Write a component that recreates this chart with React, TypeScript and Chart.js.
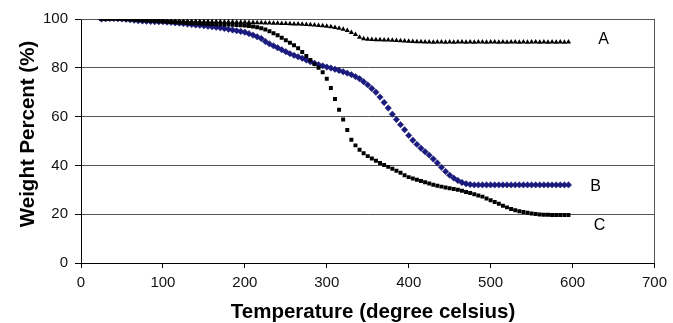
import React, { useEffect, useRef } from "react";
import { Chart, registerables } from "chart.js";

Chart.register(...registerables);

const TEMPS = [
  25, 30, 35, 40, 45, 50, 55, 60, 65, 70,
  75, 80, 85, 90, 95, 100, 105, 110, 115, 120,
  125, 130, 135, 140, 145, 150, 155, 160, 165, 170,
  175, 180, 185, 190, 195, 200, 205, 210, 215, 220,
  225, 230, 235, 240, 245, 250, 255, 260, 265, 270,
  275, 280, 285, 290, 295, 300, 305, 310, 315, 320,
  325, 330, 335, 340, 345, 350, 355, 360, 365, 370,
  375, 380, 385, 390, 395, 400, 405, 410, 415, 420,
  425, 430, 435, 440, 445, 450, 455, 460, 465, 470,
  475, 480, 485, 490, 495, 500, 505, 510, 515, 520,
  525, 530, 535, 540, 545, 550, 555, 560, 565, 570,
  575, 580, 585, 590, 595,
];

const SERIES_A = [
  99.8, 100, 100, 100.2, 100.3, 100.3, 100.2, 100, 99.9, 99.8,
  99.8, 99.7, 99.6, 99.6, 99.5, 99.5, 99.4, 99.4, 99.3, 99.3,
  99.2, 99.2, 99.1, 99.1, 99.0, 99.0, 99.0, 98.9, 98.9, 98.9,
  98.8, 98.8, 98.8, 98.7, 98.7, 98.7, 98.6, 98.6, 98.5, 98.5,
  98.4, 98.4, 98.3, 98.3, 98.2, 98.2, 98.1, 98.0, 97.9, 97.8,
  97.7, 97.6, 97.5, 97.3, 97.2, 97.0, 96.8, 96.5, 96.2, 95.8,
  95.3, 94.5, 93.6, 92.5, 91.9, 91.7, 91.6, 91.5, 91.5, 91.4,
  91.4, 91.3, 91.2, 91.1, 91.0, 90.9, 90.8, 90.7, 90.7, 90.6,
  90.6, 90.5, 90.6, 90.6, 90.5, 90.6, 90.5, 90.6, 90.6, 90.5,
  90.6, 90.5, 90.6, 90.6, 90.5, 90.6, 90.6, 90.5, 90.6, 90.5,
  90.6, 90.6, 90.5, 90.6, 90.5, 90.6, 90.6, 90.5, 90.6, 90.5,
  90.6, 90.5, 90.6, 90.5, 90.6,
];

const SERIES_B = [
  100, 100.1, 100.2, 100.2, 100.1, 100, 99.9, 99.7, 99.5, 99.3,
  99.2, 99.1, 99.0, 98.9, 98.9, 98.9, 98.7, 98.6, 98.4, 98.3,
  98.1, 97.9, 97.7, 97.5, 97.4, 97.2, 97.0, 96.8, 96.6, 96.4,
  96.1, 95.8, 95.5, 95.2, 94.9, 94.6, 94.0, 93.4, 92.7, 92.0,
  90.8, 89.8, 89.0, 88.2, 87.4, 86.6, 85.8, 85.1, 84.5, 83.9,
  83.2, 82.5, 81.9, 81.3, 80.8, 80.3, 79.9, 79.4, 78.9, 78.4,
  77.8, 77.2, 76.4, 75.5, 74.3, 73.0, 71.5, 70.0, 68.0, 65.8,
  63.5, 61.0, 58.8, 56.7, 54.6, 52.3, 50.3, 48.6, 47.0, 45.6,
  44.2, 42.6, 41.0, 39.2, 37.5, 36.0, 34.8, 33.8, 33.0, 32.5,
  32.2, 32.0, 32.0, 32.0, 32.0, 32.0, 32.0, 32.0, 32.0, 32.0,
  32.0, 32.0, 32.0, 32.0, 32.0, 32.0, 32.0, 32.0, 32.0, 32.0,
  32.0, 32.0, 32.0, 32.0, 32.0,
];

const SERIES_C = [
  100, 100, 100.1, 100.1, 100, 100, 99.9, 99.8, 99.7, 99.6,
  99.5, 99.4, 99.3, 99.2, 99.1, 99.0, 98.9, 98.8, 98.7, 98.6,
  98.5, 98.4, 98.3, 98.2, 98.1, 98.0, 97.9, 97.9, 97.8, 97.8,
  97.7, 97.7, 97.6, 97.5, 97.4, 97.3, 97.1, 96.9, 96.6, 96.2,
  95.7, 95.0, 94.2, 93.3, 92.3, 91.3, 90.3, 89.2, 88.0, 86.5,
  84.8, 83.2, 81.5, 80.0, 78.2, 75.5, 71.7, 67.2, 62.8, 58.8,
  54.5, 50.5, 48.2, 46.4, 45.0, 43.8, 42.8, 41.9, 41.0, 40.2,
  39.4, 38.6, 37.8, 37.0, 36.0, 35.2, 34.6, 34.1, 33.6, 33.1,
  32.6, 32.1, 31.7, 31.3, 30.9, 30.6, 30.3, 30.0, 29.6, 29.1,
  28.7, 28.2, 27.7, 27.2, 26.4, 25.7, 25.0, 24.3, 23.5, 22.8,
  22.1, 21.6, 21.2, 20.9, 20.6, 20.3, 20.1, 19.9, 19.8, 19.8,
  19.7, 19.7, 19.7, 19.7, 19.7,
];

const SERIES_LABELS = ["A", "B", "C"];
// label anchor positions in data units [temperature, weight]
const LABEL_T = [638, 628, 633];
const LABEL_W = [91.5, 31.3, 15.3];

const X_TITLE = "Temperature (degree celsius)";
const Y_TITLE = "Weight Percent (%)";

const FONT = "'Liberation Sans', Arial, sans-serif";

function zip(xs: number[], ys: number[]) {
  return ys.map((y, i) => ({ x: xs[i], y }));
}

const decorPlugin = {
  id: "decor",
  beforeDatasetsDraw(chart: any) {
    const { ctx, chartArea } = chart;
    ctx.save();
    ctx.strokeStyle = "#555";
    ctx.lineWidth = 1;
    const r = Math.round(chartArea.right) + 0.5;
    const t = Math.round(chartArea.top) + 0.5;
    ctx.beginPath();
    ctx.moveTo(r, chartArea.top);
    ctx.lineTo(r, chartArea.bottom);
    ctx.moveTo(chartArea.left, t);
    ctx.lineTo(chartArea.right, t);
    ctx.stroke();
    ctx.restore();
  },
  afterDraw(chart: any) {
    const { ctx, scales } = chart;
    ctx.save();
    ctx.fillStyle = "#000";
    ctx.font = `bold 20.5px ${FONT}`;
    ctx.textAlign = "center";
    ctx.textBaseline = "middle";
    ctx.fillText(X_TITLE, 373, 312);
    ctx.save();
    ctx.translate(28, 134);
    ctx.rotate(-Math.PI / 2);
    ctx.fillText(Y_TITLE, 0, 0);
    ctx.restore();
    ctx.font = `16px ${FONT}`;
    SERIES_LABELS.forEach((lab, i) => {
      const px = scales.x.getPixelForValue(LABEL_T[i]);
      const py = scales.y.getPixelForValue(LABEL_W[i]);
      ctx.fillText(lab, px, py);
    });
    ctx.restore();
  },
};

export default function App() {
  const ref = useRef<HTMLCanvasElement | null>(null);
  useEffect(() => {
    if (!ref.current) return;
    const chart = new Chart(ref.current, {
      type: "scatter",
      data: {
        datasets: [
          {
            label: "A",
            data: zip(TEMPS, SERIES_A),
            pointStyle: "triangle",
            pointRadius: 3,
            backgroundColor: "#000",
            borderColor: "#000",
            borderWidth: 0,
            showLine: false,
            order: 1,
          },
          {
            label: "B",
            data: zip(TEMPS, SERIES_B),
            pointStyle: "rectRot",
            pointRadius: 3.2,
            backgroundColor: "#1a1a80",
            borderColor: "#14146a",
            borderWidth: 0.5,
            showLine: false,
            order: 2,
          },
          {
            label: "C",
            data: zip(TEMPS, SERIES_C),
            pointStyle: "rect",
            pointRadius: 2.8,
            backgroundColor: "#000",
            borderColor: "#000",
            borderWidth: 0,
            showLine: false,
            order: 0,
          },
        ],
      },
      options: {
        animation: false,
        responsive: false,
        maintainAspectRatio: false,
        layout: { padding: { left: 0, top: 19, right: 14, bottom: 0 } },
        plugins: {
          legend: { display: false },
          tooltip: { enabled: false },
        },
        scales: {
          x: {
            type: "linear",
            min: 0,
            max: 700,
            ticks: {
              stepSize: 100,
              color: "#111",
              font: { family: FONT, size: 15 },
              padding: 6,
              maxRotation: 0,
            },
            grid: {
              drawOnChartArea: false,
              drawTicks: true,
              tickLength: 5,
              tickColor: "#000",
              color: "#000",
            },
            border: { display: true, color: "#000", width: 1 },
            afterFit: (s: any) => {
              s.height = 60;
            },
          },
          y: {
            type: "linear",
            min: 0,
            max: 100,
            ticks: {
              stepSize: 20,
              color: "#111",
              font: { family: FONT, size: 15 },
              padding: 7,
            },
            grid: {
              drawOnChartArea: true,
              drawTicks: true,
              tickLength: 6,
              tickColor: "#000",
              color: "#555",
              lineWidth: 1,
            },
            border: { display: true, color: "#000", width: 1 },
            afterFit: (s: any) => {
              s.width = 81;
            },
          },
        },
      },
      plugins: [decorPlugin],
    });
    return () => chart.destroy();
  }, []);
  return (
    <div style={{ position: "fixed", left: 0, top: 0, width: 673, height: 323, background: "#fff" }}>
      <canvas ref={ref} width={673} height={323} style={{ display: "block" }} />
    </div>
  );
}
